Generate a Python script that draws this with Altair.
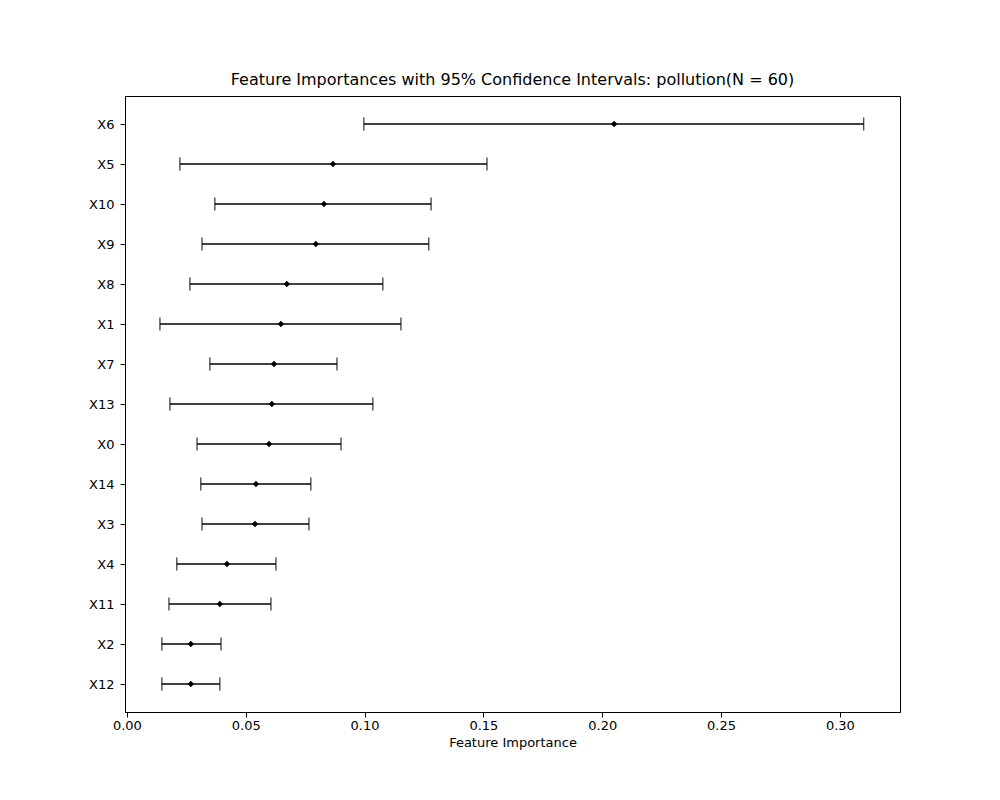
import altair as alt
import pandas as pd

features = ["X6", "X5", "X10", "X9", "X8", "X1", "X7", "X13", "X0", "X14", "X3", "X4", "X11", "X2", "X12"]
means = [0.205, 0.0867, 0.0829, 0.0795, 0.0673, 0.0648, 0.0619, 0.0610, 0.0598, 0.0543, 0.0539, 0.0421, 0.0391, 0.0269, 0.0269]
lows = [0.0997, 0.0223, 0.0370, 0.0316, 0.0265, 0.0139, 0.0349, 0.0181, 0.0295, 0.0311, 0.0316, 0.0210, 0.0177, 0.0147, 0.0147]
highs = [0.3100, 0.1515, 0.1280, 0.1270, 0.1077, 0.1153, 0.0884, 0.1035, 0.0901, 0.0774, 0.0766, 0.0627, 0.0606, 0.0396, 0.0391]
x_ticks = [0.0, 0.05, 0.10, 0.15, 0.20, 0.25, 0.30]

df = pd.DataFrame({"feature": features, "mean": means, "low": lows, "high": highs})

FONT = "DejaVu Sans"

x_scale = alt.Scale(domain=[-0.0008, 0.3253], nice=False, zero=False)
y_enc = alt.Y("feature:N", sort=features, title=None,
              scale=alt.Scale(type="point", padding=0.7),
              axis=alt.Axis(labelFontSize=13, labelPadding=6, tickSize=5, domainColor="black",
                            tickColor="black", labelColor="black", labelFont=FONT))

base = alt.Chart(df)

bars = base.mark_rule(color="black", strokeWidth=1.6).encode(
    x=alt.X("low:Q", scale=x_scale, title="Feature Importance",
            axis=alt.Axis(values=x_ticks, format=".2f", grid=False, labelFontSize=13,
                          titleFontSize=13, titleFontWeight="normal", tickSize=5,
                          domainColor="black", tickColor="black", labelColor="black",
                          titleColor="black", labelFont=FONT, titleFont=FONT)),
    x2="high:Q",
    y=y_enc,
)
cap_lo = base.mark_tick(color="black", thickness=1.4, size=13).encode(x=alt.X("low:Q", scale=x_scale), y=y_enc)
cap_hi = base.mark_tick(color="black", thickness=1.4, size=13).encode(x=alt.X("high:Q", scale=x_scale), y=y_enc)
pts = base.mark_point(color="black", filled=True, shape="diamond", size=40, opacity=1).encode(
    x=alt.X("mean:Q", scale=x_scale), y=y_enc)

chart = alt.layer(bars, cap_lo, cap_hi, pts).properties(
    width=775,
    height=616,
    autosize=alt.AutoSizeParams(type="none"),
    padding={"left": 117, "top": 88, "right": 90, "bottom": 80},
    title=alt.TitleParams("Feature Importances with 95% Confidence Intervals: pollution(N = 60)",
                          fontSize=16, fontWeight="normal", font=FONT, color="black", offset=8),
).configure_view(stroke="black", strokeWidth=1).configure_axis(
    grid=False
)

chart.save("out.html", embed_options={"renderer": "svg", "actions": False})
